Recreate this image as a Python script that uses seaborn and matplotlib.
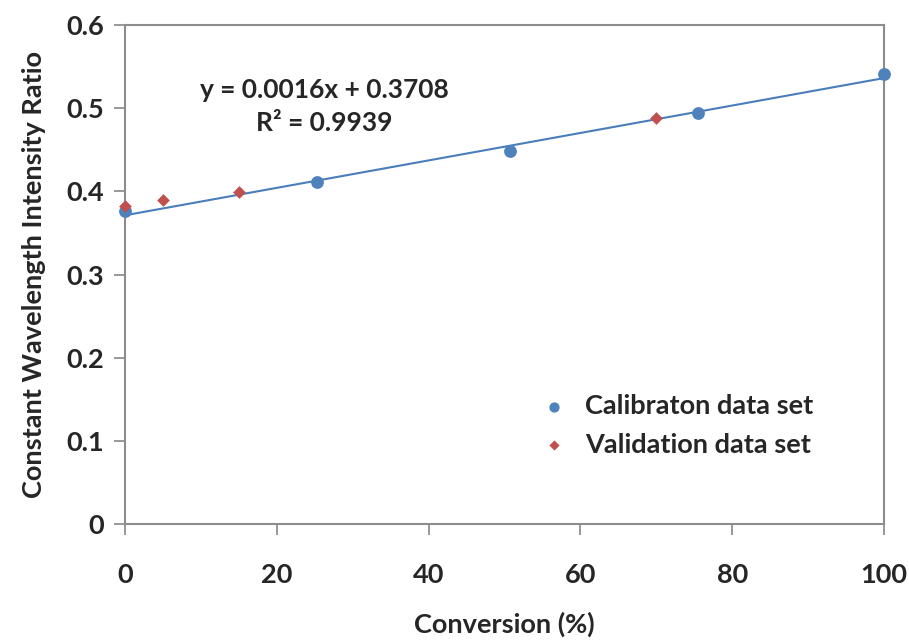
import matplotlib
matplotlib.use("Agg")
import matplotlib.pyplot as plt
import seaborn as sns
import pandas as pd

# Data
cal_x = [0, 25.3, 50.7, 75.5, 100]
cal_y = [0.376, 0.411, 0.449, 0.494, 0.541]
val_x = [0, 5, 15, 70]
val_y = [0.382, 0.390, 0.399, 0.488]
x_ticks = [0, 20, 40, 60, 80, 100]
y_ticks = [0, 0.1, 0.2, 0.3, 0.4, 0.5, 0.6]
y_ticklabels = ["0", "0.1", "0.2", "0.3", "0.4", "0.5", "0.6"]
equation = "y = 0.0016x + 0.3708\nR² = 0.9939"

sns.set_style("white")
plt.rcParams['font.family'] = ['Lato', 'DejaVu Sans']
plt.rcParams['font.weight'] = 'bold'

cal = pd.DataFrame({"x": cal_x, "y": cal_y})
val = pd.DataFrame({"x": val_x, "y": val_y})

fig = plt.figure(figsize=(9.09, 6.42), dpi=100)
ax = fig.add_axes([0.1375, 0.1838, 0.835, 0.7772])

blue = "#4F81BD"
red = "#C0504D"

sns.regplot(data=cal, x="x", y="y", ax=ax, scatter=False, ci=None,
            line_kws=dict(color="#4A7EBB", lw=1.5), truncate=True)
sns.scatterplot(data=cal, x="x", y="y", ax=ax, marker="o", s=85, color=blue,
                edgecolor=blue, linewidth=0, label="Calibraton data set", zorder=5, clip_on=False)
sns.scatterplot(data=val, x="x", y="y", ax=ax, marker="D", s=42, color=red,
                edgecolor=red, linewidth=0, label="Validation data set", zorder=6, clip_on=False)

ax.set_xlim(0, 100)
ax.set_ylim(0, 0.6)
ax.set_xticks(x_ticks)
ax.set_yticks(y_ticks)
ax.set_yticklabels(y_ticklabels)
ax.tick_params(axis='both', which='major', direction='out', length=8, width=1.2,
               color="#888888", labelsize=19.5)
ax.tick_params(axis='x', pad=20, bottom=True)
ax.tick_params(axis='y', pad=7, left=True)
for s in ax.spines.values():
    s.set_color("#8c8c8c")
    s.set_linewidth(1.5)

ax.set_xlabel("Conversion (%)", fontsize=19.5, fontweight='bold', labelpad=18)
ax.set_ylabel("Constant Wavelength Intensity Ratio", fontsize=19.5, fontweight='bold', labelpad=15)

ax.text(26.3, 0.5025, equation, ha='center', va='center', fontsize=19,
        fontweight='bold', multialignment='center', linespacing=1.45)

leg = ax.legend(loc='upper left', bbox_to_anchor=(0.497, 0.31), frameon=False,
                fontsize=19.5, handletextpad=0.15, labelspacing=0.55, markerscale=0.8)
for t in leg.get_texts():
    t.set_fontweight('bold')

fig.savefig("out.png", dpi=100)
